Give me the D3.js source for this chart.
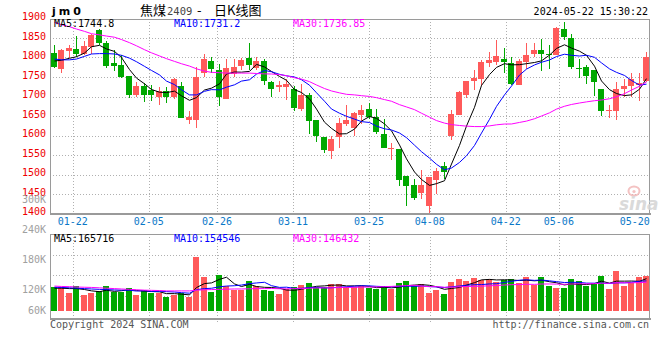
<!DOCTYPE html>
<html><head><meta charset="utf-8">
<script src="https://cdn.jsdelivr.net/npm/d3@7/dist/d3.min.js"></script>
<style>body{margin:0;background:#fff;} svg{display:block;}</style>
</head><body>
<svg id="c" width="660" height="360"></svg>
<script>
// ---------------- data ----------------
const dates = ["01-17","01-18","01-19","01-22","01-23","01-24","01-25","01-26","01-29","01-30",
"01-31","02-01","02-02","02-05","02-06","02-07","02-08","02-19","02-20","02-21",
"02-22","02-23","02-26","02-27","02-28","02-29","03-01","03-04","03-05","03-06",
"03-07","03-08","03-11","03-12","03-13","03-14","03-15","03-18","03-19","03-20",
"03-21","03-22","03-25","03-26","03-27","03-28","03-29","04-01","04-02","04-03",
"04-08","04-09","04-10","04-11","04-12","04-15","04-16","04-17","04-18","04-19",
"04-22","04-23","04-24","04-25","04-26","04-29","04-30","05-06","05-07","05-08",
"05-09","05-10","05-13","05-14","05-15","05-16","05-17","05-20","05-21","05-22"];

const open = [1811,1771,1817,1823,1810,1827,1870,1836,1786,1780,
1752,1703,1727,1717,1700,1715,1698,1726,1641,1641,
1760,1790,1767,1694,1758,1777,1799,1773,1790,1737,
1724,1724,1718,1667,1703,1641,1595,1559,1596,1629,
1620,1652,1669,1647,1605,1566,1565,1495,1472,1453,
1419,1485,1521,1599,1652,1703,1740,1746,1786,1789,
1796,1787,1729,1789,1808,1818,1810,1807,1874,1851,
1773,1776,1767,1720,1662,1663,1720,1727,1730,1739];
const high = [1831,1823,1831,1854,1842,1861,1874,1842,1818,1806,
1752,1736,1734,1729,1724,1724,1748,1737,1663,1776,
1810,1801,1784,1797,1797,1799,1837,1801,1797,1740,
1741,1746,1727,1733,1710,1641,1595,1600,1646,1677,
1660,1677,1684,1669,1643,1582,1565,1495,1488,1511,
1494,1517,1532,1665,1713,1741,1767,1793,1814,1844,
1825,1801,1797,1836,1837,1847,1831,1878,1891,1859,
1797,1780,1767,1720,1677,1737,1746,1761,1760,1814];
const low = [1773,1761,1799,1801,1806,1810,1831,1773,1765,1748,
1695,1699,1687,1689,1677,1684,1693,1645,1629,1620,
1750,1759,1676,1693,1750,1767,1767,1767,1729,1699,
1712,1690,1662,1662,1604,1583,1556,1539,1568,1624,
1599,1630,1643,1605,1568,1536,1470,1419,1434,1436,
1399,1449,1489,1588,1652,1696,1716,1727,1776,1780,
1761,1729,1729,1771,1801,1765,1771,1807,1844,1770,
1748,1733,1701,1649,1645,1641,1700,1699,1688,1738];
const close = [1776,1818,1824,1810,1829,1857,1836,1778,1778,1750,
1703,1727,1705,1705,1715,1698,1746,1645,1647,1750,
1795,1770,1700,1773,1776,1793,1780,1790,1740,1718,
1729,1731,1670,1703,1636,1599,1563,1590,1632,1639,
1658,1666,1648,1609,1568,1569,1485,1470,1440,1472,
1493,1508,1507,1654,1711,1741,1748,1788,1793,1803,
1789,1733,1790,1806,1818,1810,1806,1876,1853,1776,
1770,1753,1737,1663,1665,1720,1727,1746,1735,1801];

const ma5 = [1791,1793,1798,1802,1811.4,1827.6,1831.2,1822,1815.6,1799.8,
1769,1747.2,1732.6,1718,1711,1710,1713.8,1701.8,1690.2,1697.2,
1716.6,1721.4,1732.4,1757.6,1762.8,1762.4,1764.4,1782.4,1775.8,1764.2,
1751.4,1741.6,1717.6,1710.2,1693.8,1667.8,1634.2,1618.2,1604,1604.6,
1616.4,1637,1648.6,1644,1629.8,1612,1575.8,1540.2,1506.4,1487.2,
1472,1476.6,1484,1526.8,1574.6,1624.2,1672.2,1728.4,1756.2,1774.6,
1784.2,1781.2,1781.6,1784.2,1787.2,1791.4,1806,1823.2,1832.6,1824.2,
1816.2,1805.6,1777.8,1739.8,1717.6,1707.6,1702.4,1704.2,1718.6,1745.8];
const ma10 = [1796,1794,1794,1796,1803,1809,1810,1810,1809,1805.6,
1798.3,1789.2,1777.3,1766.8,1755.4,1739.5,1730.5,1717.2,1704.1,1704.1,
1713.3,1717.6,1717.1,1723.9,1730,1739.5,1742.9,1757.4,1766.7,1763.5,
1756.9,1753,1750,1743,1729,1709.6,1687.9,1667.9,1657.1,1649.2,
1642.1,1635.6,1633.4,1624,1617.2,1614.2,1606.4,1594.4,1575.2,1558.5,
1542,1526.2,1512.1,1516.6,1530.9,1548.1,1574.4,1606.2,1641.5,1674.6,
1704.2,1726.7,1755,1770.2,1780.9,1787.8,1793.6,1802.4,1808.4,1805.7,
1803.8,1805.8,1800.5,1786.2,1770.9,1761.9,1754,1741,1729.2,1731.7];
const ma30 = [1890,1884,1879,1873,1867,1861,1858,1855,1852,1846,
1838,1830,1820,1812,1804,1797,1790,1784,1778,1771,
1765,1762,1761,1760,1760,1760,1760,1759,1758,1757.7,
1756.2,1753.3,1748.1,1744.6,1738.1,1729.5,1720.4,1714.2,1709.3,1705.6,
1704.1,1702.1,1700.2,1697,1692.1,1687.8,1679.1,1673.2,1666.3,1657.1,
1647,1638.3,1631.8,1627.9,1625.7,1624,1622.9,1622.8,1624.6,1627.4,
1629.4,1629.5,1633.5,1636.9,1643,1650,1658.1,1667.7,1675,1679.6,
1683.3,1686.2,1689.2,1691,1694.2,1699.3,1707.3,1716.5,1726.4,1737.3];

// volume, thousands of lots
const volume = [124,124,90,127,81,90,102,127,98,98,
119,81,107,90,90,72,81,93,72,279,
175,98,184,127,107,107,155,127,107,103,
86,110,121,133,144,121,121,138,138,121,
121,127,116,110,127,110,144,153,127,138,
93,107,86,150,164,153,170,158,162,150,
158,164,144,172,133,172,127,116,116,162,
153,127,141,179,110,205,127,144,172,179];
const volMa5 = [116,116,114,114,109.2,102.4,98,105.4,99.6,103,
108.8,104.6,100.6,99,97.4,88,88,85.2,81.6,119.4,
140,143.4,161.6,172.6,138.2,124.6,136,124.6,120.6,119.8,
115.6,106.6,105.4,110.6,118.8,125.8,128,131.4,132.4,127.8,
127.8,129,124.6,119,120.2,118,121.4,128.8,132.2,134.4,
131,123.6,110.2,114.8,120,132,144.6,159,161.4,158.6,
159.6,158.4,155.6,157.6,154.2,157,149.6,144,132.8,138.6,
134.8,134.8,139.8,152.4,142,152.4,152.4,153,151.6,165.4];
const volMa10 = [121,120,118,116,114,112,110,109,107,106.1,
105.6,101.3,103,99.3,100.2,98.4,96.3,92.9,90.3,108.4,
114,115.7,123.4,127.1,128.8,132.3,139.7,143.1,146.6,129,
120.1,121.3,115,115.6,119.3,120.7,117.3,118.4,121.5,123.3,
126.8,128.5,128,125.7,124,122.9,125.2,126.7,125.6,127.3,
124.5,122.5,119.5,123.5,127.2,131.5,134.1,134.6,138.1,139.3,
145.8,151.5,157.3,159.5,156.4,158.3,154,149.8,145.2,146.4,
145.9,142.2,141.9,142.6,140.3,143.6,143.6,146.4,152,153.7];
const volMa30 = [127,125,124,122,121,120,118,116,114,112,
110,108,106,105,104,102,102,102,102,106,
108,109,110,111,112,112,113,114,114,114.5,
113.2,112.8,113.8,114,116.1,117.1,117.8,118.1,119.5,120.2,
120.3,121.8,122.1,122.8,124,125.3,127.4,129.4,131.2,126.5,
123.8,124.1,120.8,121.6,123.5,125,125.5,126.6,128.4,130,
132.4,134.2,134.9,136.2,135.9,137.6,137.8,137,136.3,137.7,
138.7,138.7,139.6,141.9,141.3,144.5,143.9,143.6,145.1,146.5];

const priceTicks = [1400,1450,1500,1550,1600,1650,1700,1750,1800,1850,1900];
const dateTicks = ["01-22","02-05","02-26","03-11","03-25","04-08","04-22","05-06","05-20"];
const volTickLabels = [300,240,180,120,60];
const mainLegend = ["MA5:1744.8","MA10:1731.2","MA30:1736.85"];
const volLegend = ["MA5:165716","MA10:154546","MA30:146432"];
const maColors = ["#000000","#0000ff","#ff00ff"];

// ---------------- layout ----------------
const L = 50, R = 650;
const mTop = 18.5, mBot = 213.5;
const vTop = 234.3, vBot = 318, vBase = 310.7;
const RED = "#ff5a5a", GREEN = "#00a800";
const GRID = "#b0b0b0", BORDER = "#9a9a9a";
const MONO = "'DejaVu Sans Mono', 'Liberation Mono', monospace";

const svg = d3.select("#c");
const n = dates.length;
const x = d3.scaleBand().domain(d3.range(n)).range([L, R]);
const gx = d3.scaleLinear().domain([0, n - 1]).range([L, R]);
const y = d3.scaleLinear().domain([1400, 1900]).range([mBot, mTop]);
const yv = d3.scaleLinear().domain([0, 394]).range([vBase, vTop]);
const yLab = d3.scaleLinear().domain([60, 300]).range([323, 203.3]);

const bodyX = i => Math.round(x(i) + 0.75);
const cx = i => bodyX(i) + 3;
const colorOf = i => close[i] >= open[i] ? RED : GREEN;

svg.append("defs").append("clipPath").attr("id","mclip")
  .append("rect").attr("x",L).attr("y",mTop).attr("width",R-L).attr("height",mBot-mTop);
svg.select("defs").append("clipPath").attr("id","vclip")
  .append("rect").attr("x",L).attr("y",vTop).attr("width",R-L).attr("height",vBot-vTop);

// ---------- grids ----------
const tickIdx = dateTicks.map(d => dates.indexOf(d));
const gridG = svg.append("g").attr("stroke", GRID).attr("stroke-dasharray","1,2").attr("shape-rendering","crispEdges");
priceTicks.filter(t => t > 1400 && t < 1900).forEach(t => {
  gridG.append("line").attr("x1",L).attr("x2",R).attr("y1",Math.round(y(t))+0.5).attr("y2",Math.round(y(t))+0.5);
});
tickIdx.filter(i => gx(i) < R - 20).forEach(i => {
  const xx = Math.round(gx(i)) + 0.5;
  gridG.append("line").attr("x1",xx).attr("x2",xx).attr("y1",mTop).attr("y2",mBot);
  gridG.append("line").attr("x1",xx).attr("x2",xx).attr("y1",vTop).attr("y2",vBot+4);
});
d3.range(1,4).forEach(k => {
  const yy = Math.round(vTop + k*20.4) + 0.5;
  gridG.append("line").attr("x1",L).attr("x2",R).attr("y1",yy).attr("y2",yy);
});

// ---------- candles ----------
const cg = svg.append("g").attr("clip-path","url(#mclip)").attr("shape-rendering","crispEdges");
const cand = cg.selectAll("g.c").data(d3.range(n)).join("g");
cand.append("line")
  .attr("x1", i => cx(i)+0.5).attr("x2", i => cx(i)+0.5)
  .attr("y1", i => y(high[i])).attr("y2", i => y(low[i]))
  .attr("stroke", colorOf).attr("stroke-width",1);
cand.append("rect")
  .attr("x", bodyX).attr("width", 6)
  .attr("y", i => y(Math.max(open[i], close[i])))
  .attr("height", i => Math.max(1.2, Math.abs(y(open[i]) - y(close[i]))))
  .attr("fill", colorOf);

// ---------- MA lines main ----------
const lineMain = d3.line().x((d,i) => cx(i)+0.5).y(d => y(d));
const mg = svg.append("g").attr("clip-path","url(#mclip)").attr("fill","none").attr("stroke-width",1);
[ma5, ma10, ma30].forEach((s,k) => mg.append("path").attr("d", lineMain(s)).attr("stroke", maColors[k]));

// ---------- volume ----------
const vg = svg.append("g").attr("shape-rendering","crispEdges");
vg.selectAll("rect").data(d3.range(n)).join("rect")
  .attr("x", bodyX).attr("width", 6)
  .attr("y", i => yv(volume[i])).attr("height", i => vBase - yv(volume[i]))
  .attr("fill", colorOf);
const lineVol = d3.line().x((d,i) => cx(i)+0.5).y(d => yv(d));
const vmg = svg.append("g").attr("clip-path","url(#vclip)").attr("fill","none").attr("stroke-width",1);
[volMa5, volMa10, volMa30].forEach((s,k) => vmg.append("path").attr("d", lineVol(s)).attr("stroke", maColors[k]));

// ---------- borders ----------
const bg = svg.append("g").attr("fill","none").attr("stroke",BORDER).attr("shape-rendering","crispEdges");
bg.append("rect").attr("x",L+0.5).attr("y",mTop+0.5).attr("width",R-L-1).attr("height",mBot-mTop-0.5);
bg.append("line").attr("x1",L).attr("x2",R+1).attr("y1",mBot+0.5).attr("y2",mBot+0.5).attr("stroke-width",2);
bg.append("rect").attr("x",L+0.5).attr("y",vTop+0.5).attr("width",R-L-1).attr("height",vBot-vTop-0.5);
bg.append("line").attr("x1",L).attr("x2",R+1).attr("y1",vBot+0.5).attr("y2",vBot+0.5).attr("stroke-width",2);

// ---------- texts ----------
const T = svg.append("g").attr("font-family", MONO).attr("font-size", 10);
priceTicks.forEach(t => T.append("text").attr("x",46).attr("y",y(t)+1.5)
  .attr("text-anchor","end").attr("fill","#ee0000").text(t));
volTickLabels.forEach(v => T.append("text").attr("x",46).attr("y",Math.min(yLab(v),314.3))
  .attr("text-anchor","end").attr("fill","#a0a0a0").text(v + "K"));
tickIdx.forEach((i,k) => T.append("text").attr("x",gx(i)).attr("y",225)
  .attr("text-anchor","middle").attr("fill","#0a78c8").text(dateTicks[k]));
const legX = [54, 174, 293];
mainLegend.forEach((s,k) => T.append("text").attr("x",legX[k]).attr("y",26.7).attr("fill",maColors[k]).text(s));
volLegend.forEach((s,k) => T.append("text").attr("x",legX[k]).attr("y",242).attr("fill",maColors[k]).text(s));
T.append("text").attr("x",50).attr("y",327.5).attr("fill","#555").text("Copyright 2024 SINA.COM");
T.append("text").attr("x",649).attr("y",327.5).attr("text-anchor","end").attr("fill","#555").text("http://finance.sina.com.cn");
T.append("text").attr("x",648).attr("y",15).attr("text-anchor","end").attr("fill","#000").text("2024-05-22 15:30:22");

// title
svg.append("text").attr("x",52).attr("y",15).attr("font-family","'DejaVu Sans', sans-serif")
  .attr("font-weight","bold").attr("font-size",11).attr("letter-spacing",3).text("jm0");
const tt = svg.append("text").attr("y",14.5).attr("font-family","'Noto Sans CJK SC', sans-serif").attr("font-size",13).attr("fill","#000");
tt.append("tspan").attr("x",140).text("焦煤");
tt.append("tspan").attr("x",167).attr("font-family",MONO).attr("font-size",10.5).attr("fill","#444").text("2409");
tt.append("tspan").attr("x",197).text("-");
tt.append("tspan").attr("x",214).text("日K线图");

// sina watermark
const wm = svg.append("g").attr("opacity",0.9);
wm.append("ellipse").attr("cx",634).attr("cy",191).attr("rx",5.5).attr("ry",4.5)
  .attr("fill","none").attr("stroke","#f3bcbc").attr("stroke-width",2);
wm.append("circle").attr("cx",634).attr("cy",191.5).attr("r",1.6).attr("fill","#f3bcbc");
wm.append("text").attr("x",619).attr("y",210).attr("font-family","'DejaVu Sans', sans-serif")
  .attr("font-size",17).attr("font-weight","bold").attr("font-style","italic").attr("fill","#d6d6d6").text("sina");
</script>
</body></html>
